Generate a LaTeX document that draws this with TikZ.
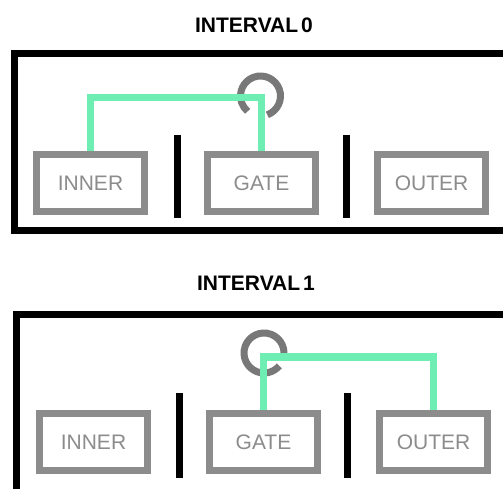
\documentclass[tikz,border=0pt]{standalone}
\usepackage{fontspec}
\setmainfont{Liberation Sans}
\definecolor{boxgray}{RGB}{140,140,140}
\definecolor{ringgray}{RGB}{120,120,120}
\definecolor{mint}{RGB}{110,238,178}
\begin{document}
\begin{tikzpicture}[x=1pt,y=1pt,
  frame/.style={draw=black,line width=7pt},
  gbox/.style={draw=boxgray,line width=7pt,minimum width=108pt,minimum height=57pt,inner sep=0pt,
    font=\fontsize{21}{21}\selectfont,text=boxgray},
  sep/.style={draw=black,line width=7pt},
  ring/.style={draw=ringgray,line width=7pt},
  link/.style={draw=mint,line width=7.5pt},
  title/.style={font=\bfseries\fontsize{21}{21}\selectfont,inner sep=0pt}]
\useasboundingbox (0,0) rectangle (503,488);
\clip (0,0) rectangle (503,488);
\fill[white] (0,0) rectangle (503,488);
% ---------- Interval 0 ----------
\node[title] (t0) at (254,463) {INTERVAL\kern3pt0};
\draw[frame] (14.5,257.5) rectangle (540,434);
\node[gbox] (inner0) at (90.5,305) {INNER};
\node[gbox] (gate0) at (261.5,305) {GATE};
\node[gbox] (outer0) at (431.5,305) {OUTER};
\coordinate (s0a) at (177.5,353); \coordinate (s0b) at (177.5,270);
\coordinate (s0c) at (346.5,353); \coordinate (s0d) at (346.5,270);
\draw[sep] (s0a) -- (s0b);
\draw[sep] (s0c) -- (s0d);
\coordinate (c0) at (260.5,392);
\draw[ring] (c0) ++(-70:20) arc[start angle=-70,end angle=230,radius=20];
\draw[link] (inner0.north) -- ++(0,53.5) -| (gate0.north);
% ---------- Interval 1 ----------
\node[title] (t1) at (256,205) {INTERVAL\kern3pt1};
\draw[frame] (16,-20) rectangle (540,173.5);
\node[gbox] (inner1) at (93.5,46) {INNER};
\node[gbox] (gate1) at (263.5,46) {GATE};
\node[gbox] (outer1) at (433.5,46) {OUTER};
\coordinate (s1a) at (179,95); \coordinate (s1b) at (179,10);
\coordinate (s1c) at (347.5,95); \coordinate (s1d) at (347.5,10);
\draw[sep] (s1a) -- (s1b);
\draw[sep] (s1c) -- (s1d);
\coordinate (c1) at (264,135);
\draw[ring] (c1) ++(-20:20) arc[start angle=-20,end angle=320,radius=20];
\draw[link] (gate1.north) -- ++(0,53) -| (outer1.north);
\end{tikzpicture}
\end{document}
